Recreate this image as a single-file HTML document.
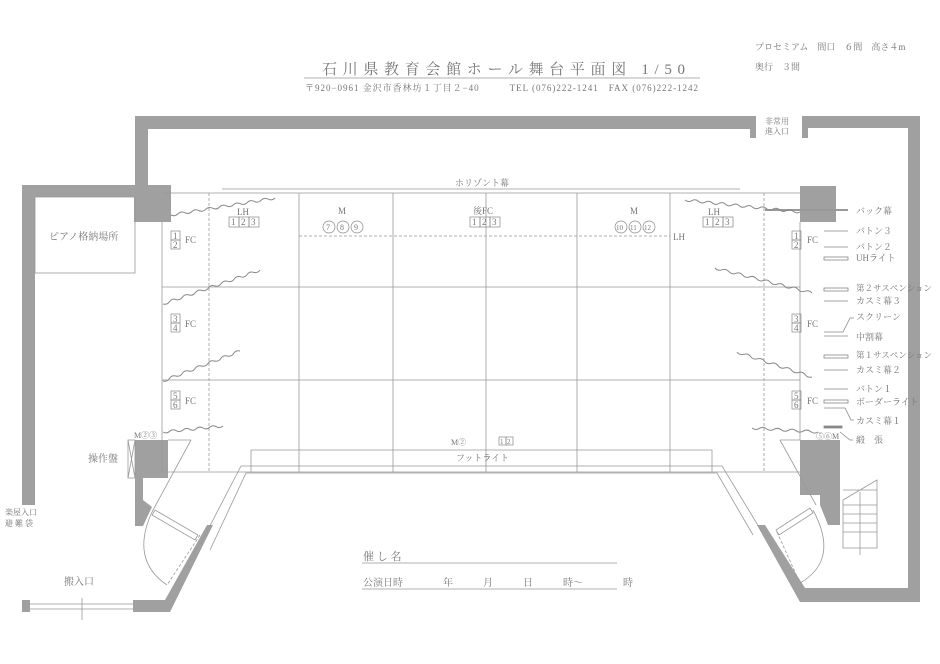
<!DOCTYPE html>
<html><head><meta charset="utf-8"><style>
body{margin:0;background:#fff}
svg{display:block}
text{font-family:"Liberation Serif","Noto Serif CJK SC",serif;fill:#777}
</style></head><body>
<svg id="s" width="940" height="664" viewBox="0 0 940 664" xmlns="http://www.w3.org/2000/svg">
<g fill="#a0a0a0" stroke="none">
<rect x="135" y="116" width="615" height="13"/>
<rect x="135" y="116" width="13" height="72"/>
<rect x="750" y="116" width="6" height="22"/>
<rect x="802" y="116" width="6" height="22"/>
<rect x="808" y="116" width="112" height="12"/>
<rect x="908" y="116" width="12" height="486"/>
<rect x="22" y="185" width="126" height="12"/>
<rect x="22" y="185" width="13" height="320"/>
<rect x="134" y="185" width="37" height="37"/>
<rect x="800" y="186" width="36" height="36"/>
<rect x="135" y="440" width="33" height="38"/>
<rect x="135" y="478" width="8" height="48"/>
<polygon points="143,500 152,507 143,526"/>
<rect x="800" y="440" width="40" height="55"/>
<polygon points="820,495 840,495 840,525 828,525 820,505"/>
<polygon points="22,600 30,600 30,612 22,612"/>
<polygon points="133,600 165,600 207,525 213,525 170,612 133,612"/>
<polygon points="757,525 765,525 805,588 912,588 912,602 800,602"/>
</g>
<g fill="none" stroke="#999" stroke-width="0.8">
<rect x="35" y="197" width="100" height="76"/>
<line x1="162" y1="193" x2="800" y2="193"/>
<line x1="222" y1="189" x2="740" y2="189"/>
<line x1="162" y1="222" x2="162" y2="472"/>
<line x1="800" y1="222" x2="800" y2="440"/>
<line x1="299" y1="193" x2="299" y2="472"/>
<line x1="393" y1="193" x2="393" y2="472"/>
<line x1="486" y1="193" x2="486" y2="472"/>
<line x1="577" y1="193" x2="577" y2="472"/>
<line x1="670" y1="193" x2="670" y2="472"/>
<line x1="162" y1="287" x2="800" y2="287"/>
<line x1="162" y1="380" x2="800" y2="380"/>
<line x1="162" y1="472" x2="800" y2="472"/>
<line x1="209" y1="193" x2="209" y2="472" stroke-dasharray="3,2"/>
<line x1="764" y1="193" x2="764" y2="472" stroke-dasharray="3,2"/>
<line x1="299" y1="236" x2="670" y2="236" stroke-dasharray="3,2"/>
<rect x="128" y="440" width="7" height="38"/>
<line x1="128" y1="440" x2="135" y2="478"/><line x1="135" y1="440" x2="128" y2="478"/>
<polyline points="251,472 251,450 712,450 712,472"/>
<polyline points="200,545 241,466 722,466 762,532"/>
<polyline points="210,550 246,473 717,473 753,535"/>
<line x1="168" y1="440" x2="191" y2="440"/><line x1="191" y1="440" x2="152" y2="512"/>
<line x1="780" y1="440" x2="800" y2="440"/><line x1="780" y1="440" x2="816" y2="505"/>
<polygon points="155,510 198,535 195,540 152,515"/>
<path d="M152,512 Q130,560 167,585"/>
<line x1="200" y1="535" x2="167" y2="585" stroke-dasharray="3,2"/>
<polygon points="810,508 776,530 779,535 813,513"/>
<path d="M813,510 Q840,560 800,583"/>
<line x1="777" y1="532" x2="800" y2="583" stroke-dasharray="3,2"/>
<polyline points="843,500 877,480 877,548 843,548 843,500"/>
<line x1="843" y1="490" x2="877" y2="490"/>
<line x1="843" y1="505" x2="877" y2="505"/><line x1="843" y1="514" x2="877" y2="514"/>
<line x1="843" y1="523" x2="877" y2="523"/><line x1="843" y1="532" x2="877" y2="532"/>
<line x1="860" y1="492" x2="860" y2="555"/>
<line x1="30" y1="604" x2="133" y2="604"/><line x1="30" y1="609" x2="133" y2="609"/>
<line x1="82" y1="598" x2="82" y2="620"/>
<line x1="304" y1="78" x2="700" y2="78"/>
<line x1="362" y1="563" x2="617" y2="563"/>
<line x1="362" y1="589" x2="617" y2="589"/>
<line x1="765" y1="210" x2="848" y2="210" stroke-width="2"/>
</g>
<g stroke="#888" stroke-width="0.8" fill="none">
<line x1="824" y1="231" x2="848" y2="231"/>
<line x1="824" y1="247" x2="848" y2="247"/>
<rect x="824" y="257" width="24" height="3"/>
<rect x="824" y="288" width="24" height="3"/>
<line x1="824" y1="301" x2="848" y2="301"/>
<polyline points="824,332 843,332 850,318 854,318"/>
<line x1="824" y1="336" x2="848" y2="336"/>
<rect x="824" y="355" width="24" height="3"/>
<line x1="824" y1="370" x2="848" y2="370"/>
<line x1="824" y1="389" x2="848" y2="389"/>
<rect x="824" y="400" width="24" height="3"/>
<polyline points="824,408 845,408 851,420 854,420"/>
<rect x="824" y="426" width="18" height="2" fill="#888"/>
<polyline points="840,432 850,440 853,440"/>
</g>
<g id="waves" fill="none" stroke="#888" stroke-width="1"></g>
<g font-size="9">
<g stroke="#888" stroke-width="0.7" fill="none">
<rect x="171" y="231" width="9" height="9"/><rect x="171" y="240" width="9" height="9"/>
<rect x="171" y="314" width="9" height="9"/><rect x="171" y="323" width="9" height="9"/>
<rect x="171" y="391" width="9" height="9"/><rect x="171" y="400" width="9" height="9"/>
<rect x="792" y="231" width="9" height="9"/><rect x="792" y="240" width="9" height="9"/>
<rect x="792" y="314" width="9" height="9"/><rect x="792" y="323" width="9" height="9"/>
<rect x="792" y="391" width="9" height="9"/><rect x="792" y="400" width="9" height="9"/>
<rect x="229" y="217" width="10" height="10"/><rect x="239" y="217" width="10" height="10"/><rect x="249" y="217" width="10" height="10"/>
<rect x="470" y="217" width="10" height="10"/><rect x="480" y="217" width="10" height="10"/><rect x="490" y="217" width="10" height="10"/>
<rect x="703" y="217" width="10" height="10"/><rect x="713" y="217" width="10" height="10"/><rect x="723" y="217" width="10" height="10"/>
<circle cx="329" cy="227" r="6"/><circle cx="343" cy="227" r="6"/><circle cx="357" cy="227" r="6"/>
<circle cx="621" cy="227" r="6"/><circle cx="635" cy="227" r="6"/><circle cx="649" cy="227" r="6"/>
<rect x="499" y="437" width="7" height="8"/><rect x="506" y="437" width="7" height="8"/>
</g>
<text x="173" y="239">1</text><text x="173" y="248">2</text><text x="173" y="322">3</text><text x="173" y="331">4</text>
<text x="173" y="399">5</text><text x="173" y="408">6</text>
<text x="794" y="239">1</text><text x="794" y="248">2</text><text x="794" y="322">3</text><text x="794" y="331">4</text>
<text x="794" y="399">5</text><text x="794" y="408">6</text>
<text x="185" y="243">FC</text><text x="185" y="327">FC</text><text x="185" y="404">FC</text>
<text x="807" y="243">FC</text><text x="807" y="327">FC</text><text x="807" y="404">FC</text>
<text x="231" y="225">1</text><text x="241" y="225">2</text><text x="251" y="225">3</text>
<text x="472" y="225">1</text><text x="482" y="225">2</text><text x="492" y="225">3</text>
<text x="705" y="225">1</text><text x="715" y="225">2</text><text x="725" y="225">3</text>
<text x="237" y="215">LH</text><text x="708" y="215">LH</text><text x="673" y="240">LH</text>
<text x="338" y="214">M</text><text x="630" y="214">M</text><text x="473" y="214">後FC</text>
<text x="326" y="230" font-size="8">7</text><text x="340" y="230" font-size="8">8</text><text x="354" y="230" font-size="8">9</text>
<text x="616" y="230" font-size="7">10</text><text x="630" y="230" font-size="7">11</text><text x="644" y="230" font-size="7">12</text>
<text x="134" y="438" font-size="8">M②③</text>
<text x="816" y="439" font-size="8">⑤⑥M</text>
<text x="451" y="445" font-size="8">M②</text>
<text x="500" y="444" font-size="7">1</text><text x="507" y="444" font-size="7">2</text>
<text x="456" y="461">フットライト</text>
<text x="455" y="186">ホリゾント幕</text>
<text x="49" y="240" font-size="10">ピアノ格納場所</text>
<text x="88" y="462" font-size="10">操作盤</text>
<text x="5" y="515" font-size="8">楽屋入口</text><text x="5" y="526" font-size="8">避 難 袋</text>
<text x="64" y="585" font-size="10">搬入口</text>
<text x="765" y="124" font-size="8">非常用</text><text x="765" y="134" font-size="8">進入口</text>
<text x="856" y="214">バック幕</text>
<text x="856" y="234">バトン３</text>
<text x="856" y="250">バトン２</text>
<text x="856" y="261">UHライト</text>
<text x="856" y="291" font-size="8.5" textLength="76" lengthAdjust="spacingAndGlyphs">第２サスペンション</text>
<text x="856" y="304">カスミ幕３</text>
<text x="856" y="320">スクリーン</text>
<text x="856" y="340">中割幕</text>
<text x="856" y="358" font-size="8.5" textLength="76" lengthAdjust="spacingAndGlyphs">第１サスペンション</text>
<text x="856" y="373">カスミ幕２</text>
<text x="856" y="392">バトン１</text>
<text x="856" y="405">ボーダーライト</text>
<text x="856" y="424">カスミ幕１</text>
<text x="856" y="443">緞　張</text>
<text x="322" y="74" font-size="15" textLength="363" lengthAdjust="spacing">石川県教育会館ホール舞台平面図 1/50</text>
<text x="305" y="91" font-size="9" textLength="393" lengthAdjust="spacing">〒920−0961 金沢市香林坊１丁目２−40　　　TEL (076)222-1241　FAX (076)222-1242</text>
<text x="755" y="50">プロセミアム　間口　６間　高さ４m</text>
<text x="755" y="70">奥行　３間</text>
<text x="363" y="560" font-size="11">催 し 名</text>
<text x="363" y="586" font-size="10">公演日時　　　　年　　　月　　　日　　　時〜　　　　時</text>
</g>
</svg>
<script>
var W=[[171,215,275,198],[163,304,260,270],[163,381,240,351],[163,432,223,426],[685,200,800,212],[715,268,812,293],[737,352,812,377],[752,428,818,432]];
var g=document.getElementById('waves'),h='';
W.forEach(function(w){var dx=w[2]-w[0],dy=w[3]-w[1],L=Math.hypot(dx,dy),n=Math.round(L/7),ux=dx/L,uy=dy/L,d='M'+w[0]+','+w[1];
for(var i=1;i<=n;i++){var t=i/n,px=w[0]+dx*t,py=w[1]+dy*t,mt=(i-.5)/n,s=(i%2?2.5:-2.5),cx=w[0]+dx*mt-uy*s,cy=w[1]+dy*mt+ux*s;d+=' Q'+cx.toFixed(1)+','+cy.toFixed(1)+' '+px.toFixed(1)+','+py.toFixed(1);}
h+='<path d="'+d+'"/>';});
g.innerHTML=h;
</script>
</body></html>
